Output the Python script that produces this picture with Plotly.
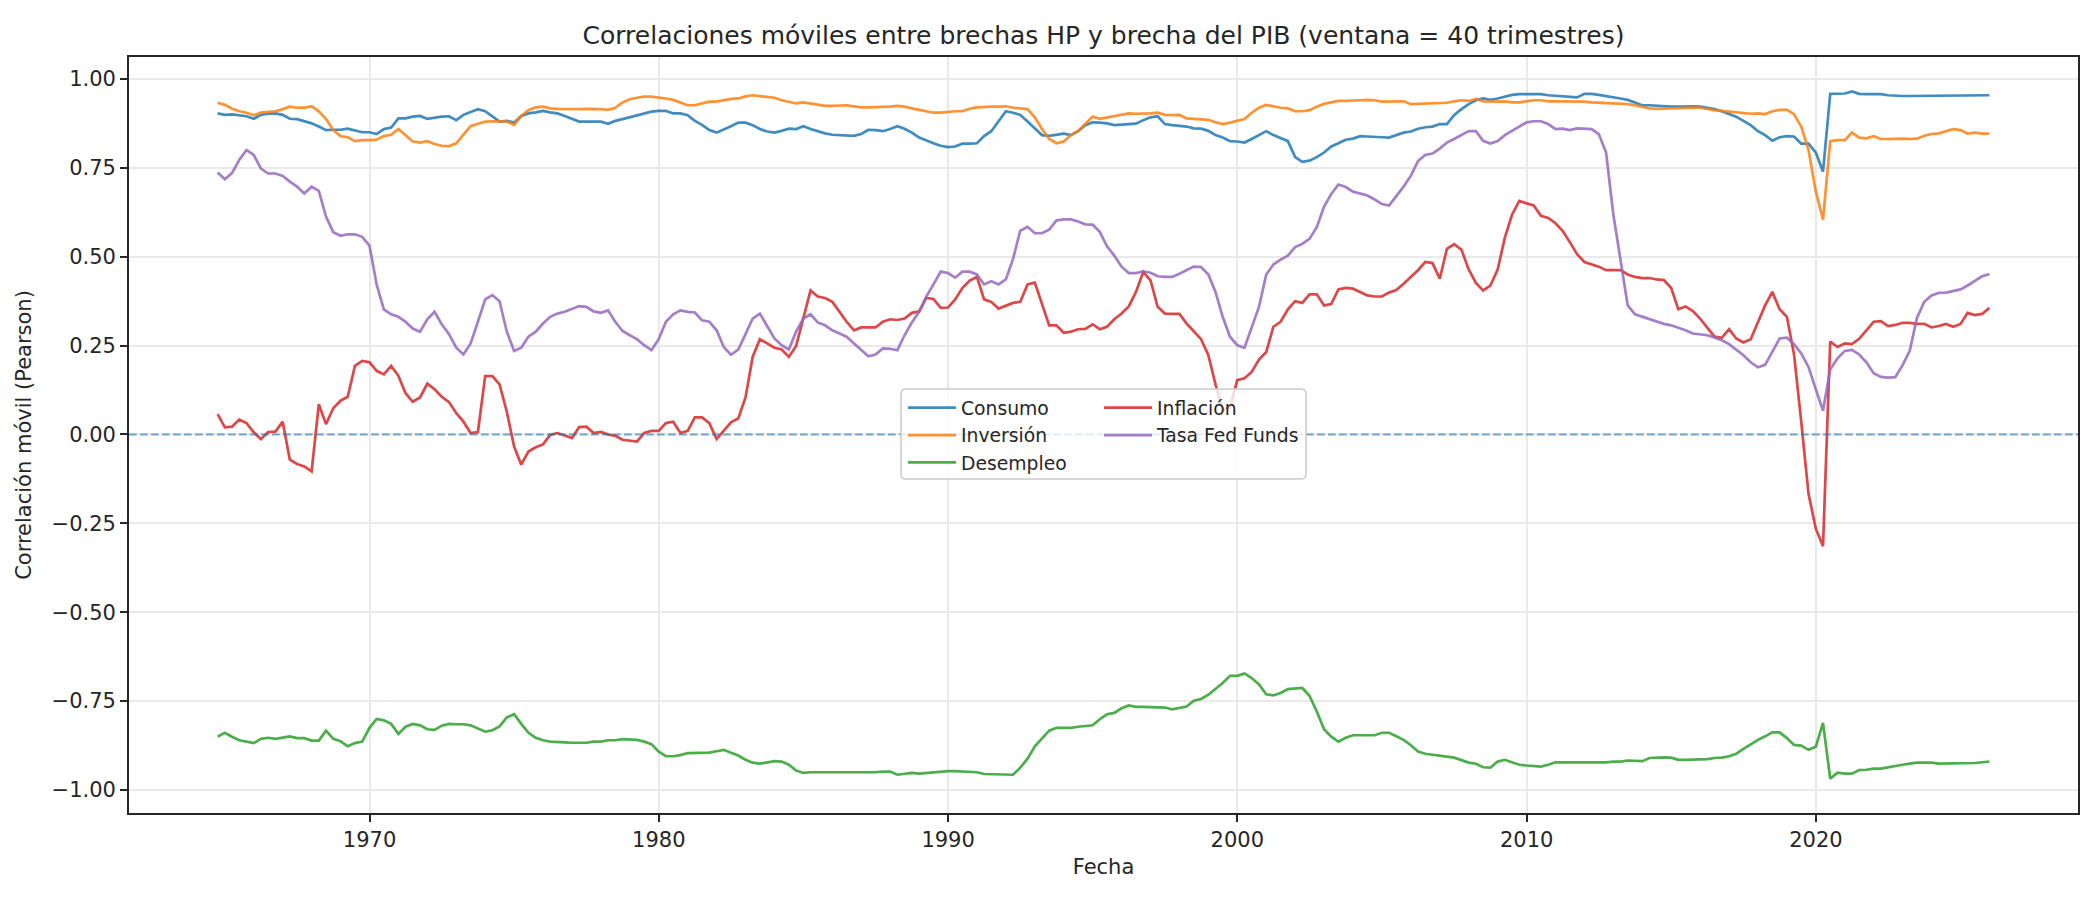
import pandas as pd
import plotly.graph_objects as go

# ---------------- data (quarterly, rolling 40-quarter correlations) ----------------
try:
    fechas = pd.date_range("1964-09-30", periods=246, freq="QE")
except Exception:
    fechas = pd.date_range("1964-09-30", periods=246, freq="Q")

consumo = [
    0.903, 0.899, 0.900, 0.898, 0.895, 0.888, 0.899, 0.902, 0.903, 0.899, 0.888, 0.887,
    0.882, 0.875, 0.866, 0.856, 0.857, 0.857, 0.860, 0.854, 0.850, 0.850, 0.845, 0.859,
    0.863, 0.889, 0.889, 0.894, 0.896, 0.888, 0.892, 0.894, 0.895, 0.884, 0.899, 0.908,
    0.915, 0.909, 0.894, 0.880, 0.882, 0.877, 0.896, 0.903, 0.906, 0.910, 0.906, 0.903,
    0.896, 0.887, 0.880, 0.880, 0.881, 0.880, 0.874, 0.882, 0.887, 0.892, 0.898, 0.901,
    0.908, 0.910, 0.910,
    0.903, 0.903, 0.898, 0.882, 0.871, 0.856, 0.849, 0.857, 0.867, 0.877, 0.877, 0.870,
    0.859, 0.852, 0.849, 0.854, 0.860, 0.859, 0.867, 0.859, 0.852, 0.847, 0.843, 0.842,
    0.842, 0.840, 0.845, 0.857, 0.856, 0.853, 0.859, 0.867, 0.860, 0.849, 0.835, 0.826,
    0.819, 0.812, 0.808, 0.810,
    0.818, 0.818, 0.819, 0.839, 0.853, 0.881, 0.909, 0.905, 0.899, 0.880, 0.861, 0.842,
    0.840, 0.842, 0.846, 0.842, 0.853, 0.870, 0.878, 0.877, 0.875, 0.870, 0.871, 0.873,
    0.874, 0.884, 0.892, 0.895, 0.873, 0.870, 0.868, 0.866, 0.861, 0.860, 0.854, 0.842,
    0.835, 0.825, 0.824, 0.821,
    0.831, 0.842, 0.853, 0.842, 0.833, 0.825, 0.780, 0.767, 0.770, 0.780, 0.793, 0.810,
    0.819, 0.829, 0.832, 0.839, 0.838, 0.838, 0.836, 0.835, 0.842, 0.849, 0.852, 0.860,
    0.864, 0.866, 0.873, 0.873, 0.898, 0.915, 0.929, 0.940, 0.945, 0.941, 0.945, 0.950,
    0.955, 0.957, 0.957, 0.957, 0.957,
    0.954, 0.952, 0.950, 0.950, 0.948, 0.958, 0.958, 0.955, 0.952, 0.950, 0.945, 0.941,
    0.934, 0.926, 0.926, 0.924, 0.922, 0.922, 0.922, 0.923, 0.923, 0.922, 0.919, 0.915,
    0.909, 0.902, 0.894, 0.882, 0.870, 0.853, 0.842, 0.826, 0.836, 0.839, 0.838, 0.818,
    0.818, 0.793, 0.739,
    0.958, 0.959, 0.959, 0.965, 0.958, 0.957, 0.957, 0.957, 0.954, 0.952, 0.952, 0.952,
    0.952, 0.952, 0.952, 0.952, 0.952, 0.954, 0.954, 0.954, 0.954, 0.954, 0.954,
]

inversion = [
    0.933, 0.927, 0.916, 0.909, 0.905, 0.898, 0.905, 0.908, 0.909, 0.915, 0.922, 0.919,
    0.919, 0.923, 0.909, 0.887, 0.856, 0.839, 0.836, 0.825, 0.828, 0.828, 0.829, 0.839,
    0.843, 0.859, 0.842, 0.824, 0.821, 0.825, 0.817, 0.812, 0.811, 0.819, 0.843, 0.867,
    0.874, 0.880, 0.881, 0.880, 0.880, 0.871, 0.896, 0.912, 0.920, 0.922, 0.917, 0.916,
    0.915, 0.915, 0.915, 0.916, 0.916, 0.915, 0.913, 0.919, 0.934, 0.943, 0.947, 0.950,
    0.950, 0.948, 0.945,
    0.941, 0.934, 0.926, 0.926, 0.930, 0.936, 0.936, 0.941, 0.944, 0.945, 0.951, 0.954,
    0.952, 0.951, 0.947, 0.940, 0.936, 0.931, 0.934, 0.931, 0.927, 0.924, 0.924, 0.926,
    0.926, 0.923, 0.920, 0.920, 0.920, 0.922, 0.922, 0.924, 0.922, 0.917, 0.913, 0.909,
    0.905, 0.905, 0.908, 0.909,
    0.909, 0.916, 0.920, 0.922, 0.922, 0.922, 0.923, 0.919, 0.917, 0.915, 0.892, 0.859,
    0.831, 0.819, 0.824, 0.842, 0.853, 0.873, 0.894, 0.888, 0.892, 0.895, 0.901, 0.903,
    0.902, 0.902, 0.903, 0.905, 0.899, 0.898, 0.899, 0.889, 0.887, 0.885, 0.885, 0.878,
    0.873, 0.877, 0.882, 0.887,
    0.905, 0.919, 0.927, 0.922, 0.919, 0.917, 0.909, 0.909, 0.912, 0.922, 0.930, 0.934,
    0.938, 0.938, 0.938, 0.940, 0.941, 0.940, 0.936, 0.936, 0.936, 0.937, 0.929, 0.930,
    0.930, 0.930, 0.931, 0.933, 0.937, 0.940, 0.938, 0.944, 0.937, 0.936, 0.936, 0.937,
    0.934, 0.934, 0.938, 0.940, 0.940,
    0.937, 0.937, 0.937, 0.937, 0.937, 0.936, 0.934, 0.933, 0.931, 0.930, 0.931, 0.929,
    0.926, 0.922, 0.917, 0.916, 0.917, 0.917, 0.919, 0.919, 0.919, 0.919, 0.915, 0.912,
    0.910, 0.908, 0.906, 0.902, 0.902, 0.903, 0.901, 0.909, 0.913, 0.913, 0.901, 0.866,
    0.800, 0.683, 0.604,
    0.825, 0.828, 0.828, 0.849, 0.835, 0.833, 0.839, 0.831, 0.831, 0.832, 0.832, 0.831,
    0.832, 0.840, 0.845, 0.847, 0.854, 0.859, 0.856, 0.846, 0.849, 0.846, 0.846,
]

desempleo = [
    -0.850, -0.839, -0.850, -0.860, -0.864, -0.868, -0.856, -0.853, -0.856, -0.853, -0.849, -0.854,
    -0.854, -0.861, -0.861, -0.833, -0.856, -0.863, -0.877, -0.868, -0.864, -0.825, -0.800, -0.804,
    -0.814, -0.842, -0.822, -0.814, -0.818, -0.829, -0.831, -0.819, -0.814, -0.815, -0.815, -0.818,
    -0.828, -0.836, -0.832, -0.821, -0.796, -0.787, -0.814, -0.839, -0.853, -0.860, -0.864, -0.866,
    -0.866, -0.867, -0.867, -0.867, -0.864, -0.864, -0.860, -0.860, -0.857, -0.857, -0.859, -0.864,
    -0.871, -0.892, -0.905,
    -0.905, -0.902, -0.896, -0.896, -0.895, -0.895, -0.891, -0.887, -0.895, -0.903, -0.915, -0.923,
    -0.926, -0.923, -0.919, -0.920, -0.929, -0.945, -0.952, -0.950, -0.950, -0.950, -0.951, -0.952,
    -0.951, -0.951, -0.950, -0.950, -0.950, -0.948, -0.948, -0.957, -0.954, -0.952, -0.954, -0.952,
    -0.951, -0.950, -0.947, -0.947,
    -0.948, -0.950, -0.950, -0.955, -0.955, -0.955, -0.957, -0.957, -0.937, -0.912, -0.877, -0.856,
    -0.833, -0.825, -0.825, -0.825, -0.822, -0.821, -0.818, -0.801, -0.787, -0.783, -0.770, -0.762,
    -0.766, -0.766, -0.766, -0.766, -0.768, -0.773, -0.768, -0.765, -0.749, -0.744, -0.732, -0.716,
    -0.699, -0.679, -0.679, -0.672,
    -0.685, -0.703, -0.731, -0.734, -0.727, -0.716, -0.714, -0.713, -0.735, -0.779, -0.829, -0.850,
    -0.864, -0.853, -0.846, -0.846, -0.847, -0.846, -0.839, -0.839, -0.849, -0.859, -0.874, -0.892,
    -0.898, -0.901, -0.902, -0.905, -0.909, -0.916, -0.923, -0.926, -0.936, -0.937, -0.920, -0.915,
    -0.922, -0.929, -0.931, -0.933, -0.934,
    -0.929, -0.922, -0.922, -0.922, -0.924, -0.924, -0.923, -0.923, -0.922, -0.920, -0.920, -0.917,
    -0.917, -0.919, -0.910, -0.908, -0.908, -0.909, -0.915, -0.915, -0.915, -0.913, -0.913, -0.910,
    -0.909, -0.905, -0.898, -0.884, -0.871, -0.859, -0.849, -0.838, -0.838, -0.854, -0.873, -0.875,
    -0.887, -0.878, -0.811,
    -0.968, -0.951, -0.954, -0.954, -0.944, -0.943, -0.940, -0.940, -0.936, -0.931, -0.929, -0.926,
    -0.923, -0.923, -0.923, -0.926, -0.926, -0.924, -0.924, -0.926, -0.924, -0.922, -0.920,
]

inflacion = [
    0.057, 0.020, 0.022, 0.042, 0.032, 0.006, -0.013, 0.007, 0.008, 0.036, -0.071, -0.083,
    -0.090, -0.104, 0.085, 0.029, 0.074, 0.095, 0.106, 0.193, 0.207, 0.203, 0.179, 0.169,
    0.193, 0.165, 0.116, 0.092, 0.104, 0.143, 0.127, 0.106, 0.091, 0.060, 0.036, 0.004,
    0.007, 0.164, 0.164, 0.141, 0.064, -0.034, -0.085, -0.048, -0.036, -0.028, -0.001, 0.004,
    -0.003, -0.010, 0.021, 0.022, 0.004, 0.007, 0.000, -0.004, -0.015, -0.018, -0.020, 0.004,
    0.010, 0.010, 0.032,
    0.036, 0.004, 0.010, 0.048, 0.048, 0.032, -0.013, 0.011, 0.034, 0.045, 0.104, 0.218,
    0.268, 0.256, 0.244, 0.239, 0.218, 0.249, 0.324, 0.405, 0.388, 0.384, 0.373, 0.345,
    0.317, 0.293, 0.301, 0.301, 0.301, 0.317, 0.324, 0.322, 0.326, 0.342, 0.346, 0.384,
    0.381, 0.356, 0.357, 0.380,
    0.412, 0.433, 0.443, 0.380, 0.373, 0.354, 0.363, 0.370, 0.373, 0.422, 0.427, 0.368,
    0.307, 0.307, 0.286, 0.289, 0.296, 0.297, 0.310, 0.296, 0.303, 0.324, 0.340, 0.360,
    0.401, 0.457, 0.433, 0.359, 0.340, 0.339, 0.339, 0.312, 0.291, 0.268, 0.223, 0.141,
    0.070, 0.075, 0.153, 0.158,
    0.176, 0.211, 0.232, 0.303, 0.317, 0.352, 0.375, 0.370, 0.394, 0.394, 0.363, 0.367,
    0.408, 0.412, 0.410, 0.401, 0.391, 0.388, 0.388, 0.399, 0.406, 0.424, 0.443, 0.462,
    0.485, 0.482, 0.438, 0.522, 0.535, 0.520, 0.464, 0.426, 0.405, 0.419, 0.464, 0.553,
    0.618, 0.657, 0.650, 0.644, 0.615,
    0.609, 0.594, 0.573, 0.541, 0.507, 0.485, 0.478, 0.472, 0.462, 0.462, 0.462, 0.450,
    0.443, 0.440, 0.440, 0.436, 0.434, 0.412, 0.352, 0.360, 0.347, 0.326, 0.301, 0.275,
    0.272, 0.296, 0.270, 0.259, 0.268, 0.317, 0.363, 0.401, 0.352, 0.331, 0.225, 0.036,
    -0.167, -0.265, -0.314,
    0.261, 0.246, 0.256, 0.254, 0.269, 0.293, 0.317, 0.319, 0.305, 0.308, 0.314, 0.314,
    0.311, 0.311, 0.301, 0.305, 0.311, 0.303, 0.311, 0.342, 0.336, 0.339, 0.356,
]

fed_funds = [
    0.737, 0.718, 0.735, 0.772, 0.800, 0.786, 0.748, 0.734, 0.734, 0.727, 0.711, 0.697,
    0.678, 0.697, 0.685, 0.613, 0.569, 0.559, 0.563, 0.563, 0.556, 0.531, 0.422, 0.352,
    0.338, 0.331, 0.317, 0.298, 0.289, 0.324, 0.345, 0.310, 0.282, 0.244, 0.225, 0.256,
    0.317, 0.380, 0.392, 0.375, 0.289, 0.235, 0.244, 0.275, 0.289, 0.312, 0.331, 0.340,
    0.345, 0.352, 0.361, 0.359, 0.346, 0.342, 0.349, 0.317, 0.291, 0.279, 0.268, 0.251,
    0.237, 0.268, 0.317,
    0.338, 0.349, 0.345, 0.343, 0.321, 0.317, 0.293, 0.246, 0.224, 0.239, 0.282, 0.326,
    0.340, 0.305, 0.270, 0.251, 0.239, 0.289, 0.326, 0.338, 0.315, 0.307, 0.293, 0.284,
    0.275, 0.256, 0.238, 0.220, 0.225, 0.242, 0.241, 0.237, 0.279, 0.315, 0.345, 0.388,
    0.422, 0.458, 0.454, 0.441,
    0.458, 0.458, 0.450, 0.422, 0.431, 0.422, 0.436, 0.494, 0.573, 0.584, 0.566, 0.566,
    0.576, 0.602, 0.605, 0.605, 0.599, 0.591, 0.590, 0.570, 0.529, 0.503, 0.472, 0.454,
    0.454, 0.459, 0.455, 0.445, 0.443, 0.443, 0.452, 0.461, 0.472, 0.471, 0.450, 0.401,
    0.331, 0.275, 0.251, 0.244,
    0.303, 0.359, 0.450, 0.478, 0.492, 0.503, 0.527, 0.536, 0.550, 0.583, 0.641, 0.676,
    0.703, 0.696, 0.683, 0.678, 0.672, 0.661, 0.648, 0.644, 0.671, 0.697, 0.728, 0.769,
    0.786, 0.790, 0.804, 0.821, 0.831, 0.842, 0.853, 0.853, 0.826, 0.818, 0.825, 0.842,
    0.854, 0.866, 0.878, 0.881, 0.881,
    0.873, 0.859, 0.860, 0.856, 0.861, 0.859, 0.859, 0.845, 0.793, 0.618, 0.492, 0.363,
    0.338, 0.331, 0.324, 0.318, 0.311, 0.307, 0.301, 0.293, 0.284, 0.282, 0.279, 0.273,
    0.265, 0.254, 0.239, 0.223, 0.203, 0.189, 0.196, 0.235, 0.270, 0.272, 0.254, 0.228,
    0.190, 0.127, 0.067,
    0.183, 0.214, 0.235, 0.238, 0.225, 0.203, 0.172, 0.162, 0.160, 0.161, 0.195, 0.235,
    0.328, 0.373, 0.391, 0.398, 0.399, 0.403, 0.408, 0.419, 0.433, 0.445, 0.451,
]

series_nombres = ["Consumo", "Inversión", "Desempleo", "Inflación", "Tasa Fed Funds"]
series_valores = [consumo, inversion, desempleo, inflacion, fed_funds]
series_colores = ["#1f77b4", "#ff7f0e", "#2ca02c", "#d62728", "#9467bd"]
series_leyenda = ["legend", "legend", "legend", "legend2", "legend2"]

anios_ticks = [1970, 1980, 1990, 2000, 2010, 2020]
y_ticks = [-1.0, -0.75, -0.5, -0.25, 0.0, 0.25, 0.5, 0.75, 1.0]

for v in series_valores:
    assert len(v) == len(fechas), len(v)

# ---------------- figure ----------------
W, H = 2100, 900
ML, MR, MT, MB = 129, 22, 57, 87
PW, PH = W - ML - MR, H - MT - MB


def rgba(hexc, a):
    h = hexc.lstrip("#")
    return "rgba(%d,%d,%d,%.2f)" % (int(h[0:2], 16), int(h[2:4], 16), int(h[4:6], 16), a)


fig = go.Figure()
for nombre, vals, col, leg in zip(series_nombres, series_valores, series_colores, series_leyenda):
    fig.add_trace(go.Scatter(
        x=fechas, y=vals, mode="lines", name=nombre,
        line=dict(color=rgba(col, 0.85), width=2.7),
        legend=leg,
    ))

# matplotlib-like automatic limits: 5 % margins on both axes
span = fechas[-1] - fechas[0]
x_range = [fechas[0] - span * 0.05, fechas[-1] + span * 0.05]
todos = [v for s in series_valores for v in s]
ymin, ymax = min(todos), max(todos)
yspan = ymax - ymin
y_range = [ymin - 0.05 * yspan, ymax + 0.05 * yspan]

axis_common = dict(
    showline=True, linecolor="#262626", linewidth=1.7, mirror=True,
    ticks="outside", ticklen=7, tickwidth=1.7, tickcolor="#262626",
    showgrid=True, gridcolor="#e9e9e9", gridwidth=1.6,
    zeroline=False, tickfont=dict(size=21, color="#262626"),
)

fig.update_xaxes(
    range=x_range, type="date",
    tickvals=[pd.Timestamp(f"{a}-01-01") for a in anios_ticks],
    ticktext=[str(a) for a in anios_ticks],
    title=dict(text="Fecha", font=dict(size=21, color="#262626"), standoff=8),
    **axis_common,
)
fig.update_yaxes(
    range=y_range,
    tickvals=y_ticks, tickformat=".2f",
    title=dict(text="Correlación móvil (Pearson)", font=dict(size=21, color="#262626"), standoff=14),
    **axis_common,
)

# zero reference line
fig.add_shape(type="line", xref="paper", x0=0, x1=1, yref="y", y0=0, y1=0,
              line=dict(color="rgba(31,119,180,0.6)", width=2, dash="7.7px,3.3px"), layer="above")

# legend frame (rounded box, semi-transparent) spanning both legend columns
bx0, bx1 = (901 - ML) / PW, (1306 - ML) / PW
by1, by0 = (MT + PH - 389) / PH, (MT + PH - 479) / PH
rx, ry = 5 / PW, 5 / PH
path = (f"M {bx0+rx},{by0} L {bx1-rx},{by0} Q {bx1},{by0} {bx1},{by0+ry} "
        f"L {bx1},{by1-ry} Q {bx1},{by1} {bx1-rx},{by1} L {bx0+rx},{by1} "
        f"Q {bx0},{by1} {bx0},{by1-ry} L {bx0},{by0+ry} Q {bx0},{by0} {bx0+rx},{by0} Z")
fig.add_shape(type="path", xref="paper", yref="paper", path=path,
              fillcolor="rgba(255,255,255,0.8)", line=dict(color="#cccccc", width=1.6), layer="above")

leg_common = dict(
    bgcolor="rgba(0,0,0,0)", borderwidth=0, font=dict(size=18.75, color="#262626"),
    xanchor="left", yanchor="top", itemwidth=48, tracegroupgap=0,
)
ytop = (MT + PH - 389) / PH
fig.update_layout(
    width=W, height=H,
    margin=dict(l=ML, r=MR, t=MT, b=MB, autoexpand=False),
    paper_bgcolor="white", plot_bgcolor="white",
    font=dict(family="DejaVu Sans", size=21, color="#262626"),
    title=dict(
        text="Correlaciones móviles entre brechas HP y brecha del PIB (ventana = 40 trimestres)",
        font=dict(size=25, color="#262626"),
        x=(ML + PW / 2) / W, xanchor="center",
        yref="container", y=1 - 35 / H, yanchor="middle",
    ),
    legend=dict(x=(903 - ML) / PW, y=ytop, **leg_common),
    legend2=dict(x=(1099 - ML) / PW, y=ytop, **leg_common),
    showlegend=True,
)

# remove the browser's default page margin so the figure sits at the window origin
fig.write_html(
    "out.html",
    config={"displayModeBar": False},
    post_script="document.body.style.margin='0';document.body.style.padding='0';"
                "document.documentElement.style.overflow='hidden';",
)
